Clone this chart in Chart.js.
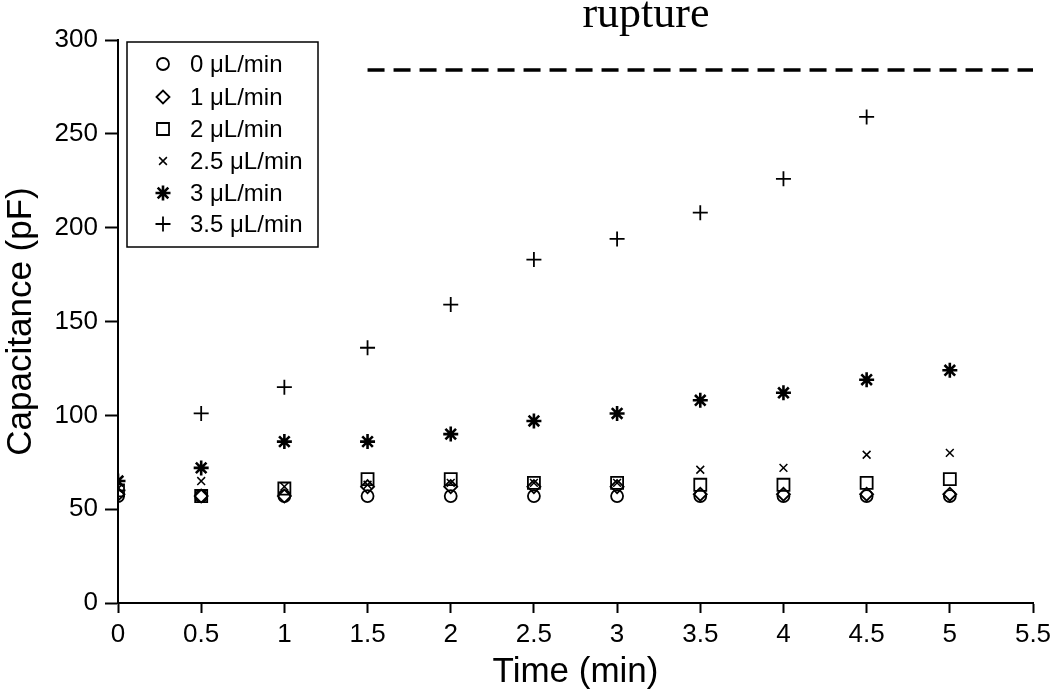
<!DOCTYPE html>
<html>
<head>
<meta charset="utf-8">
<script src="https://cdn.jsdelivr.net/npm/chart.js@4"></script>
<style>
  html, body { margin: 0; padding: 0; background: #fff; }
  #wrap { width: 1050px; height: 694px; }
</style>
</head>
<body>
<div id="wrap"><canvas id="cap-chart" width="1050" height="694"></canvas></div>
<script>
// valeurs
const times = [0, 0.5, 1, 1.5, 2, 2.5, 3, 3.5, 4, 4.5, 5];
const rate0 = [57, 57, 57, 57, 57, 57, 57, 57, 57, 57, 57];
const rate1 = [58, 57, 57, 62, 62, 62, 62, 58, 58, 58, 58];
const rate2 = [60, 57, 61, 66, 66, 64, 64, 63, 63, 64, 66];
const rate25 = [61, 65, 62, 63, 64, 64, 64, 71, 72, 79, 80];
const rate3 = [65, 72, 86, 86, 90, 97, 101, 108, 112, 119, 124];
const rate35 = [60, 101, 115, 136, 159, 183, 194, 208, 226, 259];
const ruptureX = [1.5, 5.5];
const ruptureY = 284;
const xTicks = [0, 0.5, 1, 1.5, 2, 2.5, 3, 3.5, 4, 4.5, 5, 5.5];
const yTicks = [0, 50, 100, 150, 200, 250, 300];

const labels = ["0 \u03bcL/min", "1 \u03bcL/min", "2 \u03bcL/min", "2.5 \u03bcL/min", "3 \u03bcL/min", "3.5 \u03bcL/min"];
const series = [rate0, rate1, rate2, rate25, rate3, rate35];
const styles = [
  { pointStyle: "circle", radius: 6, width: 1.8 },
  { pointStyle: "rectRot", radius: 6.5, width: 1.8 },
  { pointStyle: "rect", radius: 8.5, width: 1.8 },
  { pointStyle: "crossRot", radius: 5.5, width: 1.5 },
  { pointStyle: "star", radius: 7.5, width: 2.6 },
  { pointStyle: "cross", radius: 7.5, width: 1.8 },
];

const toPoints = (ys) => ys.map((y, i) => ({ x: times[i], y: y }));

const datasets = series.map((ys, i) => ({
  label: labels[i],
  data: toPoints(ys),
  showLine: false,
  pointStyle: styles[i].pointStyle,
  pointRadius: styles[i].radius,
  pointHoverRadius: styles[i].radius,
  pointBorderWidth: styles[i].width,
  borderColor: "#000",
  backgroundColor: "rgba(0,0,0,0)",
}));

datasets.push({
  label: "rupture",
  data: ruptureX.map((x) => ({ x: x, y: ruptureY })),
  showLine: true,
  borderColor: "#000",
  borderWidth: 3.5,
  borderDash: [17, 9],
  pointRadius: 0,
});

const axisFont = { family: "'Liberation Sans', Arial, sans-serif", size: 26 };
const titleFont = { family: "'Liberation Sans', Arial, sans-serif", size: 35 };

// legende encadree dans le graphique + texte "rupture"
const extras = {
  id: "extras",
  afterDraw(chart) {
    const ctx = chart.ctx;
    ctx.save();
    // boite
    ctx.strokeStyle = "#000";
    ctx.lineWidth = 1.5;
    ctx.strokeRect(127, 42, 191, 205);
    const rows = [64, 97, 129, 161, 193, 224];
    ctx.font = "24px 'Liberation Sans', Arial, sans-serif";
    ctx.textBaseline = "middle";
    ctx.textAlign = "left";
    for (let i = 0; i < 6; i++) {
      ctx.lineWidth = styles[i].width;
      ctx.strokeStyle = "#000";
      ctx.fillStyle = "rgba(0,0,0,0)";
      Chart.helpers.drawPoint(ctx, {
        pointStyle: styles[i].pointStyle,
        radius: styles[i].radius,
        borderWidth: styles[i].width,
        rotation: 0,
      }, 163, rows[i]);
      ctx.fillStyle = "#000";
      ctx.fillText(labels[i], 190, rows[i] + 1);
    }
    // titre
    ctx.font = "44px 'Liberation Serif', 'Times New Roman', serif";
    ctx.textAlign = "center";
    ctx.textBaseline = "alphabetic";
    ctx.fillText("rupture", 646, 27);
    ctx.restore();
  },
};

const chart = new Chart(document.getElementById("cap-chart").getContext("2d"), {
  type: "scatter",
  data: { datasets: datasets },
  options: {
    responsive: false,
    animation: false,
    events: [],
    layout: { padding: { top: 40, right: 17, left: 0, bottom: 0 } },
    plugins: {
      legend: { display: false },
      tooltip: { enabled: false },
    },
    scales: {
      x: {
        type: "linear",
        min: 0,
        max: 5.5,
        afterBuildTicks: (scale) => { scale.ticks = xTicks.map((v) => ({ value: v })); },
        afterFit: (scale) => { scale.height = 91; scale.paddingLeft = 0; scale.paddingRight = 0; },
        border: { display: true, color: "#000", width: 2 },
        grid: { drawOnChartArea: false, drawTicks: true, tickLength: 10, tickColor: "#000", tickWidth: 2 },
        ticks: { color: "#000", font: axisFont, padding: 6, maxRotation: 0, autoSkip: false, callback: (v) => String(v) },
        title: { display: true, text: "Time (min)", color: "#000", font: titleFont, padding: { top: 0, bottom: 1 } },
      },
      y: {
        min: 0,
        max: 300,
        afterBuildTicks: (scale) => { scale.ticks = yTicks.map((v) => ({ value: v })); },
        afterFit: (scale) => { scale.width = 118; scale.paddingTop = 0; scale.paddingBottom = 0; },
        border: { display: true, color: "#000", width: 2 },
        grid: { drawOnChartArea: false, drawTicks: true, tickLength: 13, tickColor: "#000", tickWidth: 2 },
        ticks: { color: "#000", font: axisFont, padding: 7, callback: (v) => String(v) },
        title: { display: true, text: "Capacitance (pF)", color: "#000", font: titleFont, padding: { top: 0, bottom: 0 } },
      },
    },
  },
  plugins: [extras],
});
</script>
</body>
</html>
